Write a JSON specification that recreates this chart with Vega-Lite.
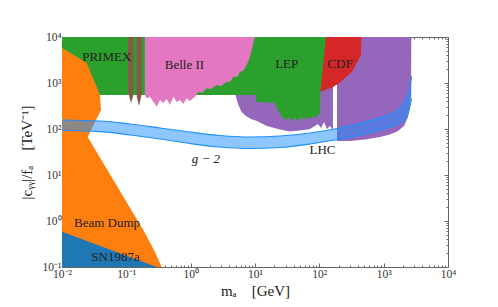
{
  "$schema": "https://vega.github.io/schema/vega-lite/v6.json",
  "width": 386,
  "height": 230,
  "autosize": "none",
  "padding": {"left": 62, "top": 37, "right": 50, "bottom": 40},
  "background": "white",
  "config": {"view": {"stroke": null}},
  "datasets": {
    "lhc1": [{"x":4.975,"y":548},{"x":5.442,"y":349.5},{"x":6.17,"y":234.2},{"x":7.246,"y":191.7},{"x":8.667,"y":165},{"x":10.74,"y":149.3},{"x":15.2,"y":116.2},{"x":24.47,"y":97.5},{"x":35,"y":88.3},{"x":50.05,"y":92.8},{"x":71.6,"y":100},{"x":95.3,"y":128.5},{"x":106.1,"y":105.2},{"x":118.2,"y":142},{"x":131.6,"y":100},{"x":146.5,"y":116.2},{"x":163.1,"y":95.1}],
    "lhc2": [{"x":188.2,"y":54.8},{"x":299.7,"y":54.8},{"x":512.6,"y":59.1},{"x":877,"y":67},{"x":1254,"y":75.9},{"x":1670,"y":90.5},{"x":2070,"y":116.2},{"x":2389,"y":182.3},{"x":2567,"y":286},{"x":2660,"y":548},{"x":2690,"y":10000}],
    "cdf": [{"x":103.2,"y":637},{"x":163.1,"y":818.5},{"x":202.2,"y":985},{"x":321.9,"y":1761},{"x":444.3,"y":4062},{"x":449.2,"y":10000}],
    "green": [{"x":0.01,"y":548},{"x":10,"y":548},{"x":10.55,"y":392},{"x":20.46,"y":367.5},{"x":22.37,"y":258.8},{"x":27.24,"y":173.4},{"x":30.33,"y":156.9},{"x":33.77,"y":182.3},{"x":37.6,"y":149.3},{"x":41.86,"y":173.4},{"x":46.6,"y":149.3},{"x":51.9,"y":182.3},{"x":57.8,"y":156.9},{"x":64.3,"y":182.3},{"x":71.6,"y":165},{"x":79.7,"y":191.7},{"x":88.8,"y":173.4},{"x":97.1,"y":211.9},{"x":101.7,"y":191.7},{"x":104.3,"y":670},{"x":126.9,"y":10000}],
    "belle": [{"x":0.1936,"y":548},{"x":0.2073,"y":465},{"x":0.2333,"y":496},{"x":0.2625,"y":392},{"x":0.2965,"y":305.3},{"x":0.3337,"y":427},{"x":0.3755,"y":367.5},{"x":0.424,"y":449},{"x":0.4773,"y":332.4},{"x":0.537,"y":503.7},{"x":0.6066,"y":386.4},{"x":0.6826,"y":427},{"x":0.7679,"y":349.5},{"x":0.8675,"y":465},{"x":0.9763,"y":406.2},{"x":1.168,"y":503.7},{"x":1.314,"y":647},{"x":1.5,"y":606},{"x":1.775,"y":767},{"x":2.071,"y":740.6},{"x":2.54,"y":904.6},{"x":2.962,"y":860.6},{"x":3.632,"y":1067},{"x":4.087,"y":1051},{"x":4.599,"y":1371},{"x":5.25,"y":1350},{"x":5.846,"y":1761},{"x":6.509,"y":1823},{"x":7.43,"y":2462},{"x":8.361,"y":3730},{"x":9.41,"y":7295},{"x":10,"y":10000}],
    "brown": [{"id":"a","x":0.1069,"y":10000},{"id":"a","x":0.1077,"y":606},{"id":"a","x":0.1182,"y":367.5},{"id":"a","x":0.1279,"y":521.7},{"id":"a","x":0.1288,"y":10000},{"id":"b","x":0.1444,"y":10000},{"id":"b","x":0.1455,"y":496},{"id":"b","x":0.1574,"y":316.2},{"id":"b","x":0.1721,"y":548},{"id":"b","x":0.1734,"y":10000}],
    "beam": [{"x":0.01,"y":5770},{"x":0.0242,"y":2720},{"x":0.039,"y":548},{"x":0.0404,"y":258.8},{"x":0.0326,"y":142},{"x":0.0251,"y":67},{"x":0.0964,"y":2.861},{"x":0.195,"y":0.548},{"x":0.279,"y":0.212},{"x":0.355,"y":0.1}],
    "sn": [{"x":0.01,"y":0.585},{"x":0.297,"y":0.1}],
    "g2": [{"x":0.01,"lo":92.8,"hi":156.9},{"x":0.039,"lo":87.4,"hi":149.3},{"x":0.114,"lo":74.1,"hi":128.5},{"x":0.334,"lo":60.6,"hi":105.2},{"x":0.976,"lo":48.4,"hi":86},{"x":2.86,"lo":40.6,"hi":72.2},{"x":8.36,"lo":37.7,"hi":67},{"x":24.5,"lo":39.6,"hi":70.4},{"x":71.6,"lo":47.2,"hi":81.8},{"x":209.5,"lo":60.6,"hi":105.2},{"x":512.6,"lo":77.8,"hi":142},{"x":1049,"lo":102.5,"hi":191.7},{"x":1670,"lo":128.5,"hi":258.8},{"x":2070,"lo":156.9,"hi":367.5},{"x":2347,"lo":211.9,"hi":521.7},{"x":2567,"lo":316.2,"hi":818.5},{"x":2708,"lo":449,"hi":1420}],
    "labels": [{"x":0.0496,"y":3620,"t":"PRIMEX"},{"x":0.8,"y":2460,"t":"Belle II"},{"x":31.1,"y":2590,"t":"LEP"},{"x":209.6,"y":2590,"t":"CDF"},{"x":112,"y":34.9,"t":"LHC"},{"x":0.0501,"y":0.918,"t":"Beam Dump"},{"x":0.068,"y":0.163,"t":"SN1987a"}],
    "labels2": [{"x":1.72,"y":21.9,"t":"g − 2"}]
  },
  "resolve": {"axis": {"x": "independent", "y": "independent"}},
  "layer": [
    {
      "data": {"name": "lhc1"},
      "mark": {"type": "area", "color": "#9467bd", "clip": true},
      "encoding": {
        "x": {"field": "x", "type": "quantitative", "scale": {"type": "log", "domain": [0.01, 10000], "nice": false},
          "title": "mₐ\u00a0\u00a0\u00a0\u00a0[GeV]",
          "axis": {"orient": "bottom", "grid": false,
            "values": [0.01,0.02,0.03,0.04,0.05,0.06,0.07,0.08,0.09,0.1,0.2,0.3,0.4,0.5,0.6,0.7,0.8,0.9,1,2,3,4,5,6,7,8,9,10,20,30,40,50,60,70,80,90,100,200,300,400,500,600,700,800,900,1000,2000,3000,4000,5000,6000,7000,8000,9000,10000],
            "labelExpr": "abs(log(datum.value)/LN10 - round(log(datum.value)/LN10)) < 0.001 ? '10' + (datum.value < 0.9 ? '⁻' : '') + ['⁰','¹','²','³','⁴'][abs(round(log(datum.value)/LN10))] : ''",
            "tickSize": {"condition": {"test": "abs(log(datum.value)/LN10 - round(log(datum.value)/LN10)) < 0.001", "value": -4}, "value": -2},
            "tickColor": "#666", "domainColor": "#666", "labelColor": "#333",
            "labelFont": "Liberation Serif", "labelFontSize": 11.5, "labelPadding": 5, "labelFlush": false, "labelOverlap": false,
            "titleFont": "Liberation Serif", "titleFontSize": 15, "titleFontWeight": "normal", "titleColor": "#222", "titlePadding": 2}},
        "y": {"field": "y", "type": "quantitative", "scale": {"type": "log", "domain": [0.1, 10000], "nice": false},
          "title": "|cᵧᵧ|/fₐ\u00a0\u00a0\u00a0\u00a0[TeV⁻¹]",
          "axis": {"orient": "left", "grid": false,
            "values": [0.1,0.2,0.3,0.4,0.5,0.6,0.7,0.8,0.9,1,2,3,4,5,6,7,8,9,10,20,30,40,50,60,70,80,90,100,200,300,400,500,600,700,800,900,1000,2000,3000,4000,5000,6000,7000,8000,9000,10000],
            "labelExpr": "abs(log(datum.value)/LN10 - round(log(datum.value)/LN10)) < 0.001 ? '10' + (datum.value < 0.9 ? '⁻' : '') + ['⁰','¹','²','³','⁴'][abs(round(log(datum.value)/LN10))] : ''",
            "tickSize": {"condition": {"test": "abs(log(datum.value)/LN10 - round(log(datum.value)/LN10)) < 0.001", "value": -4}, "value": -2},
            "tickColor": "#666", "domainColor": "#666", "labelColor": "#333",
            "labelFont": "Liberation Serif", "labelFontSize": 11.5, "labelPadding": 5, "labelOverlap": false,
            "titleFont": "Liberation Serif", "titleFontSize": 15, "titleFontWeight": "normal", "titleColor": "#222", "titlePadding": 8}},
        "y2": {"datum": 10000}
      }
    },
    {
      "data": {"name": "lhc2"},
      "mark": {"type": "area", "color": "#9467bd"},
      "encoding": {"x": {"field": "x", "type": "quantitative", "axis": null}, "y": {"field": "y", "type": "quantitative", "axis": null}, "y2": {"datum": 10000}}
    },
    {
      "data": {"name": "cdf"},
      "mark": {"type": "area", "color": "#d62728"},
      "encoding": {"x": {"field": "x", "type": "quantitative", "axis": null}, "y": {"field": "y", "type": "quantitative", "axis": null}, "y2": {"datum": 10000}}
    },
    {
      "data": {"name": "green"},
      "mark": {"type": "area", "color": "#2ca02c"},
      "encoding": {"x": {"field": "x", "type": "quantitative", "axis": null}, "y": {"field": "y", "type": "quantitative", "axis": null}, "y2": {"datum": 10000}}
    },
    {
      "data": {"name": "belle"},
      "mark": {"type": "area", "color": "#e377c2"},
      "encoding": {"x": {"field": "x", "type": "quantitative", "axis": null}, "y": {"field": "y", "type": "quantitative", "axis": null}, "y2": {"datum": 10000}}
    },
    {
      "data": {"name": "brown"},
      "mark": {"type": "area", "color": "#8c564b"},
      "encoding": {"x": {"field": "x", "type": "quantitative", "axis": null}, "y": {"field": "y", "type": "quantitative", "axis": null}, "y2": {"datum": 10000}, "detail": {"field": "id"}}
    },
    {
      "data": {"name": "beam"},
      "mark": {"type": "area", "color": "#ff7f0e", "orient": "horizontal"},
      "encoding": {"y": {"field": "y", "type": "quantitative", "axis": null}, "x": {"field": "x", "type": "quantitative", "axis": null}, "x2": {"datum": 0.01}}
    },
    {
      "data": {"name": "sn"},
      "mark": {"type": "area", "color": "#1f77b4"},
      "encoding": {"x": {"field": "x", "type": "quantitative", "axis": null}, "y": {"field": "y", "type": "quantitative", "axis": null}, "y2": {"datum": 0.1}}
    },
    {
      "data": {"name": "g2"},
      "mark": {"type": "area", "color": "#1e90ff", "opacity": 0.5, "interpolate": "monotone"},
      "encoding": {"x": {"field": "x", "type": "quantitative", "axis": null}, "y": {"field": "lo", "type": "quantitative", "axis": null}, "y2": {"field": "hi"}}
    },
    {
      "data": {"name": "g2"},
      "mark": {"type": "line", "color": "#1e90ff", "strokeWidth": 1.2, "interpolate": "monotone"},
      "encoding": {"x": {"field": "x", "type": "quantitative", "axis": null}, "y": {"field": "lo", "type": "quantitative", "axis": null}}
    },
    {
      "data": {"name": "g2"},
      "mark": {"type": "line", "color": "#1e90ff", "strokeWidth": 1.2, "interpolate": "monotone"},
      "encoding": {"x": {"field": "x", "type": "quantitative", "axis": null}, "y": {"field": "hi", "type": "quantitative", "axis": null}}
    },
    {
      "data": {"name": "labels"},
      "mark": {"type": "text", "font": "Liberation Serif", "fontSize": 13, "color": "#222", "align": "center", "baseline": "middle"},
      "encoding": {"x": {"field": "x", "type": "quantitative", "axis": null}, "y": {"field": "y", "type": "quantitative", "axis": null}, "text": {"field": "t"}}
    },
    {
      "data": {"name": "labels2"},
      "mark": {"type": "text", "font": "Liberation Serif", "fontSize": 13, "fontStyle": "italic", "color": "#222", "align": "center", "baseline": "middle"},
      "encoding": {"x": {"field": "x", "type": "quantitative", "axis": null}, "y": {"field": "y", "type": "quantitative", "axis": null}, "text": {"field": "t"}}
    },
    {
      "data": {"name": "sn"},
      "mark": {"type": "point", "opacity": 0},
      "encoding": {
        "x": {"field": "x", "type": "quantitative",
          "axis": {"orient": "top", "grid": false, "labels": false, "title": null,
            "values": [0.01,0.02,0.03,0.04,0.05,0.06,0.07,0.08,0.09,0.1,0.2,0.3,0.4,0.5,0.6,0.7,0.8,0.9,1,2,3,4,5,6,7,8,9,10,20,30,40,50,60,70,80,90,100,200,300,400,500,600,700,800,900,1000,2000,3000,4000,5000,6000,7000,8000,9000,10000],
            "tickSize": {"condition": {"test": "abs(log(datum.value)/LN10 - round(log(datum.value)/LN10)) < 0.001", "value": -4}, "value": -2},
            "tickColor": "#666", "domainColor": "#666"}},
        "y": {"field": "y", "type": "quantitative",
          "axis": {"orient": "right", "grid": false, "labels": false, "title": null,
            "values": [0.1,0.2,0.3,0.4,0.5,0.6,0.7,0.8,0.9,1,2,3,4,5,6,7,8,9,10,20,30,40,50,60,70,80,90,100,200,300,400,500,600,700,800,900,1000,2000,3000,4000,5000,6000,7000,8000,9000,10000],
            "tickSize": {"condition": {"test": "abs(log(datum.value)/LN10 - round(log(datum.value)/LN10)) < 0.001", "value": -4}, "value": -2},
            "tickColor": "#666", "domainColor": "#666"}}
      }
    }
  ]
}
